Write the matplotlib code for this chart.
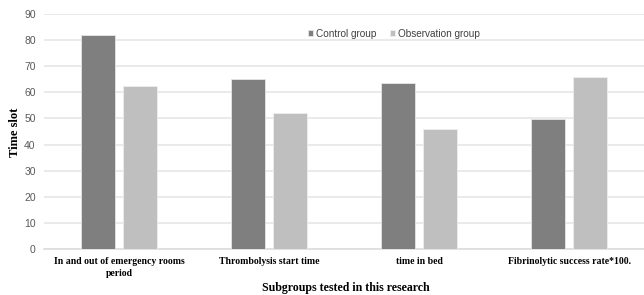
import matplotlib
matplotlib.use("Agg")
import matplotlib.pyplot as plt
import numpy as np

categories = ["In and out of emergency rooms\nperiod", "Thrombolysis start time",
              "time in bed", "Fibrinolytic success rate*100."]
control = [82.0, 65.1, 63.6, 49.6]
observation = [62.6, 52.1, 45.9, 66.0]
yticks = [0, 10, 20, 30, 40, 50, 60, 70, 80, 90]

fig = plt.figure(figsize=(6.44, 2.95), dpi=100)
ax = fig.add_axes([44/644, 46/295, 600/644, 235/295])

x = np.arange(len(categories))
w = 0.227
off = 0.143
ax.bar(x - off, control, w, color="#7f7f7f", edgecolor="#e6e6e6", linewidth=0.6,
       label="Control group", zorder=3)
ax.bar(x + off, observation, w, color="#bfbfbf", edgecolor="#eeeeee", linewidth=0.6,
       label="Observation group", zorder=3)

ax.set_xlim(-0.5, len(categories) - 0.5)
ax.set_ylim(0, 90)
ax.set_yticks(yticks)
ax.yaxis.grid(True, color="#e6e6e6", linewidth=1.2, zorder=0)
ax.set_axisbelow(True)
for s in ["top", "right", "left"]:
    ax.spines[s].set_visible(False)
ax.spines["bottom"].set_color("#dddddd")
ax.spines["bottom"].set_linewidth(1.2)
ax.tick_params(axis="y", length=0, pad=6, labelsize=7.5, labelcolor="#595959")
ax.tick_params(axis="x", length=0, pad=6)
ax.set_yticklabels([str(v) for v in yticks], family="Liberation Sans")
ax.set_xticks(x)
ax.set_xticklabels(categories, family="Liberation Serif", fontweight="bold",
                   fontsize=7, linespacing=1.45)

fig.text(15/644, 1 - 132/295, "Time slot", family="Liberation Serif", fontweight="bold",
         fontsize=9, rotation=90, ha="center", va="center")
fig.text(346/644, 1 - 288/295, "Subgroups tested in this research", family="Liberation Serif",
         fontweight="bold", fontsize=8.6, ha="center", va="center")

leg = ax.legend(loc="center", bbox_to_anchor=(0.583, 0.915), ncol=2, frameon=False,
                prop={"family": "Liberation Sans", "size": 7.2},
                handlelength=0.55, handleheight=0.55, handletextpad=0.3, columnspacing=1.3)
for t in leg.get_texts():
    t.set_color("#404040")

fig.savefig("out.png", dpi=100)
